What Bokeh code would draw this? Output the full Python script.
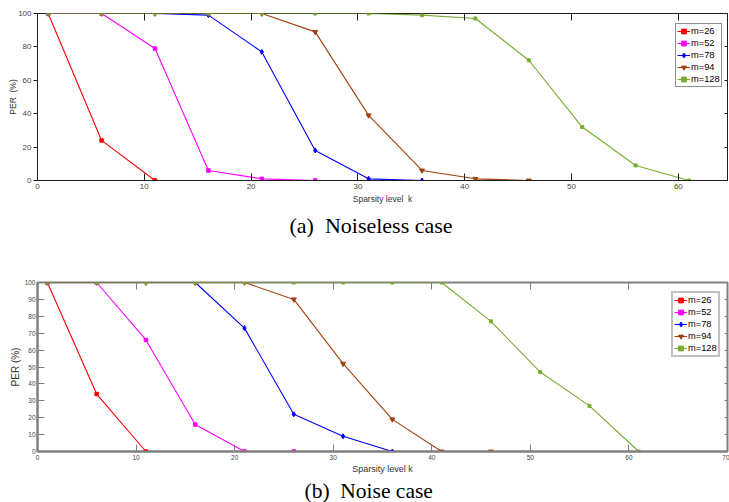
from bokeh.plotting import figure
from bokeh.models import LinearAxis, Range1d, Title, FixedTicker
from bokeh.layouts import column
from bokeh.embed import file_html
from bokeh.resources import INLINE

# ---------------- data ----------------
series_names = ["m=26", "m=52", "m=78", "m=94", "m=128"]

# (a) Noiseless case
a_k26 = [1, 6, 11]
a_v26 = [100, 24, 0]
a_k52 = [1, 6, 11, 16, 21, 26]
a_v52 = [100, 100, 79, 6, 1, 0]
a_k78 = [1, 6, 11, 16, 21, 26, 31, 36]
a_v78 = [100, 100, 100, 99, 77, 18, 1, 0]
a_k94 = [1, 6, 11, 16, 21, 26, 31, 36, 41, 46]
a_v94 = [100, 100, 100, 100, 100, 89, 39, 6, 1, 0]
a_k128 = [1, 6, 11, 16, 21, 26, 31, 36, 41, 46, 51, 56, 61]
a_v128 = [100, 100, 100, 100, 100, 100, 100, 99, 97, 72, 32, 9, 0]

# (b) Noise case
b_k26 = [1, 6, 11]
b_v26 = [100, 34, 0]
b_k52 = [1, 6, 11, 16, 21, 26]
b_v52 = [100, 100, 66, 16, 0, 0]
b_k78 = [1, 6, 11, 16, 21, 26, 31, 36]
b_v78 = [100, 100, 100, 100, 73, 22, 9, 0]
b_k94 = [1, 6, 11, 16, 21, 26, 31, 36, 41, 46]
b_v94 = [100, 100, 100, 100, 100, 90, 52, 19, 0, 0]
b_k128 = [1, 6, 11, 16, 21, 26, 31, 36, 41, 46, 51, 56, 61]
b_v128 = [100, 100, 100, 100, 100, 100, 100, 100, 100, 77, 47, 27, 0]

a_xticks = [0, 10, 20, 30, 40, 50, 60]
a_yticks = [0, 20, 40, 60, 80, 100]
b_xticks = [0, 10, 20, 30, 40, 50, 60, 70]
b_yticks = [0, 10, 20, 30, 40, 50, 60, 70, 80, 90, 100]

colors = ["#FF0000", "#FF00FF", "#0000FF", "#A0410F", "#77AC30"]
markers = ["square", "square", "diamond", "inverted_triangle", "square"]
msizes = [3.5, 3.5, 5, 5, 3]

SANS = "Liberation Sans"
NBSP = "\u00a0"


def box_axis(ticks, tick_in, color):
    # tick marks only (box style), labels switched off so the axis takes no room
    return LinearAxis(ticker=FixedTicker(ticks=ticks), major_tick_in=tick_in, major_tick_out=0,
                      minor_tick_line_color=None, axis_line_color=None,
                      major_tick_line_color=color,
                      major_label_text_color=None, major_label_standoff=0,
                      axis_label=None, axis_label_standoff=0)


def make_plot(ks, vs, xmax, xticks, yticks, height, borders, frame_color, frame_w,
              tick_font, ylab, xlab, ylab_font, xlab_font, ytick_in, ytick_out, xlab_standoff,
              ylab_standoff, caption, cap_font, cap_offset, cap_standoff, legend_loc,
              legend_border_w):
    top, right, bottom, left = borders
    p = figure(width=729, height=height, output_backend="svg", toolbar_location=None,
               x_range=Range1d(0, xmax), y_range=Range1d(0, 100),
               min_border_top=top, min_border_right=right,
               min_border_bottom=bottom, min_border_left=left)
    p.xgrid.visible = False
    p.ygrid.visible = False
    p.outline_line_color = frame_color
    p.outline_line_width = frame_w
    p.background_fill_color = "white"
    p.border_fill_color = "white"

    for k, v, name, c, m, s in zip(ks, vs, series_names, colors, markers, msizes):
        p.line(k, v, line_color=c, line_width=1.1, legend_label=name)
        p.scatter(k, v, marker=m, size=s, fill_color=c, line_color=c, legend_label=name)

    xa = p.xaxis[0]
    xa.ticker = FixedTicker(ticks=xticks)
    xa.major_tick_in = 7
    xa.major_tick_out = 0
    xa.minor_tick_line_color = None
    xa.axis_line_color = frame_color
    xa.axis_line_width = frame_w
    xa.major_tick_line_color = frame_color
    xa.major_label_text_font = SANS
    xa.major_label_text_font_size = tick_font
    xa.major_label_text_color = "#444444"
    xa.major_label_standoff = 3
    xa.axis_label = xlab
    xa.axis_label_text_font = SANS
    xa.axis_label_text_font_style = "normal"
    xa.axis_label_text_font_size = xlab_font
    xa.axis_label_text_color = "#333333"
    xa.axis_label_standoff = xlab_standoff

    ya = p.yaxis[0]
    ya.ticker = FixedTicker(ticks=yticks)
    ya.major_tick_in = ytick_in
    ya.major_tick_out = ytick_out
    ya.minor_tick_line_color = None
    ya.axis_line_color = frame_color
    ya.axis_line_width = frame_w
    ya.major_tick_line_color = frame_color
    ya.major_label_text_font = SANS
    ya.major_label_text_font_size = tick_font
    ya.major_label_text_color = "#444444"
    ya.major_label_standoff = 2
    ya.axis_label = ylab
    ya.axis_label_text_font = SANS
    ya.axis_label_text_font_style = "normal"
    ya.axis_label_text_font_size = ylab_font
    ya.axis_label_text_color = "#333333"
    ya.axis_label_standoff = ylab_standoff

    p.add_layout(box_axis(xticks, 7, frame_color), "above")
    p.add_layout(box_axis(yticks, 3, frame_color), "right")

    lg = p.legend[0]
    lg.location = legend_loc
    lg.padding = 1
    lg.spacing = 0
    lg.glyph_width = 13
    lg.glyph_height = 12
    lg.label_height = 12
    lg.label_width = 10
    lg.label_standoff = 1
    lg.label_text_font = SANS
    lg.label_text_font_size = "9.3px"
    lg.label_text_color = "black"
    lg.border_line_color = frame_color
    lg.border_line_width = legend_border_w
    lg.background_fill_alpha = 1

    cap = Title(text=caption, align="left", offset=cap_offset, standoff=cap_standoff,
                text_font="Liberation Serif", text_font_size=cap_font,
                text_font_style="normal", text_color="black")
    p.add_layout(cap, "below")
    return p


p1 = make_plot([a_k26, a_k52, a_k78, a_k94, a_k128],
               [a_v26, a_v52, a_v78, a_v94, a_v128],
               64.6, a_xticks, a_yticks, 250, (13, 1, 70, 37), "#1f1f1f", 1,
               "8px", "PER" + NBSP + NBSP + "(%)", "Sparsity level" + NBSP + NBSP + "k",
               "8.5px", "8.5px", 0, 4, 2, -3,
               "(a)" + NBSP + NBSP + "Noiseless case", "22px", 252, 9, (638, 93), 1)
p2 = make_plot([b_k26, b_k52, b_k78, b_k94, b_k128],
               [b_v26, b_v52, b_v78, b_v94, b_v128],
               70, b_xticks, b_yticks, 252, (32, 2, 51, 33), "#808080", 2,
               "6.5px", "PER (%)", "Sparsity level k", "10px", "9px", 7, 0, 1, 1,
               "(b)" + NBSP + NBSP + "Noise case", "21.5px", 267, 0, (634, 94), 2)

layout = column(p1, p2, spacing=0)
open("out.html", "w").write(file_html(layout, INLINE))
